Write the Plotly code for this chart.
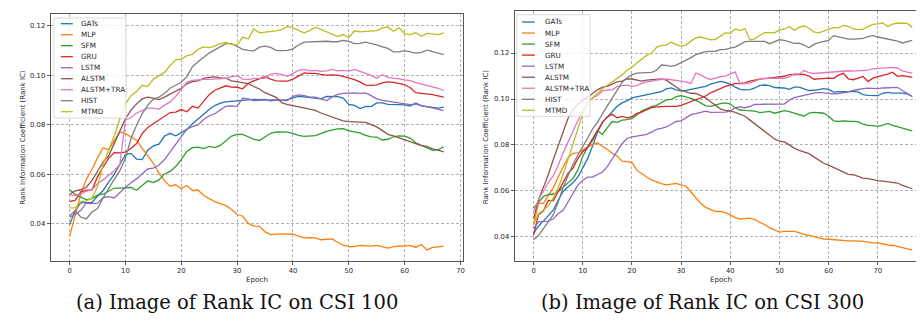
import plotly.graph_objects as go

W, H = 924, 322

# ---------------- data ----------------
models = ["GATs", "MLP", "SFM", "GRU", "LSTM", "ALSTM", "ALSTM+TRA", "HIST", "MTMD"]
colors = ["#1f77b4", "#ff7f0e", "#2ca02c", "#d62728", "#9467bd",
          "#8c564b", "#e377c2", "#7f7f7f", "#bcbd22"]

epochs_csi100 = list(range(68))
epochs_csi300 = list(range(78))

csi100_gats = [0.0398, 0.0453, 0.0485, 0.0485, 0.0487, 0.0512, 0.0535, 0.0570, 0.0600, 0.0640,
               0.0680, 0.0685, 0.0662, 0.0660, 0.0698, 0.0715, 0.0722, 0.0755, 0.0766, 0.0756,
               0.0768, 0.0782, 0.0805, 0.0825, 0.0845, 0.0862, 0.0878, 0.0888, 0.0893, 0.0895,
               0.0897, 0.0900, 0.0904, 0.0903, 0.0902, 0.0903, 0.0897, 0.0901, 0.0900, 0.0902,
               0.0909, 0.0915, 0.0913, 0.0910, 0.0909, 0.0905, 0.0915, 0.0916, 0.0914, 0.0908,
               0.0883, 0.0879, 0.0866, 0.0875, 0.0874, 0.0889, 0.0889, 0.0883, 0.0882, 0.0882,
               0.0881, 0.0876, 0.0889, 0.0877, 0.0875, 0.0870, 0.0868, 0.0872]
csi100_mlp = [0.0350, 0.0430, 0.0520, 0.0580, 0.0620, 0.0667, 0.0707, 0.0700, 0.0735, 0.0772,
              0.0765, 0.0752, 0.0738, 0.0705, 0.0675, 0.0645, 0.0605, 0.0575, 0.0552, 0.0558,
              0.0543, 0.0555, 0.0535, 0.0537, 0.0515, 0.0503, 0.0490, 0.0482, 0.0474, 0.0458,
              0.0438, 0.0431, 0.0402, 0.0391, 0.0390, 0.0368, 0.0357, 0.0359, 0.0359, 0.0360,
              0.0360, 0.0351, 0.0344, 0.0345, 0.0344, 0.0336, 0.0338, 0.0339, 0.0326, 0.0314,
              0.0308, 0.0308, 0.0313, 0.0311, 0.0310, 0.0313, 0.0308, 0.0302, 0.0307, 0.0311,
              0.0310, 0.0313, 0.0305, 0.0317, 0.0295, 0.0305, 0.0307, 0.0310]
csi100_sfm = [0.0538, 0.0520, 0.0508, 0.0498, 0.0502, 0.0516, 0.0520, 0.0532, 0.0545, 0.0545,
              0.0545, 0.0547, 0.0536, 0.0555, 0.0574, 0.0567, 0.0578, 0.0602, 0.0612, 0.0632,
              0.0660, 0.0693, 0.0708, 0.0710, 0.0704, 0.0713, 0.0708, 0.0717, 0.0738, 0.0755,
              0.0762, 0.0762, 0.0752, 0.0742, 0.0737, 0.0752, 0.0766, 0.0772, 0.0771, 0.0771,
              0.0766, 0.0758, 0.0754, 0.0755, 0.0757, 0.0765, 0.0774, 0.0779, 0.0784, 0.0785,
              0.0776, 0.0772, 0.0768, 0.0758, 0.0752, 0.0751, 0.0739, 0.0742, 0.0752, 0.0756,
              0.0755, 0.0747, 0.0728, 0.0717, 0.0706, 0.0697, 0.0699, 0.0712]
csi100_gru = [0.0491, 0.0495, 0.0530, 0.0536, 0.0537, 0.0590, 0.0630, 0.0665, 0.0688, 0.0687,
              0.0690, 0.0705, 0.0725, 0.0765, 0.0790, 0.0805, 0.0820, 0.0835, 0.0850, 0.0852,
              0.0862, 0.0853, 0.0875, 0.0868, 0.0895, 0.0922, 0.0940, 0.0948, 0.0958, 0.0953,
              0.0952, 0.0946, 0.0968, 0.0978, 0.0988, 0.0995, 0.0985, 0.0978, 0.0977, 0.0977,
              0.0985, 0.0997, 0.1010, 0.1008, 0.1008, 0.1004, 0.1001, 0.1002, 0.1001, 0.0996,
              0.0990, 0.0983, 0.0974, 0.0961, 0.0960, 0.0962, 0.0970, 0.0974, 0.0972, 0.0967,
              0.0963, 0.0950, 0.0930, 0.0927, 0.0926, 0.0922, 0.0917, 0.0912]
csi100_lstm = [0.0427, 0.0438, 0.0455, 0.0484, 0.0482, 0.0484, 0.0505, 0.0510, 0.0505, 0.0528,
               0.0548, 0.0566, 0.0582, 0.0603, 0.0622, 0.0625, 0.0638, 0.0660, 0.0690, 0.0725,
               0.0755, 0.0783, 0.0793, 0.0800, 0.0822, 0.0837, 0.0845, 0.0860, 0.0876, 0.0877,
               0.0875, 0.0908, 0.0905, 0.0898, 0.0899, 0.0901, 0.0902, 0.0902, 0.0899, 0.0898,
               0.0915, 0.0921, 0.0918, 0.0912, 0.0912, 0.0905, 0.0898, 0.0912, 0.0923, 0.0927,
               0.0929, 0.0929, 0.0927, 0.0929, 0.0918, 0.0905, 0.0899, 0.0896, 0.0893, 0.0890,
               0.0886, 0.0882, 0.0884, 0.0877, 0.0873, 0.0869, 0.0864, 0.0858]
csi100_alstm = [0.0520, 0.0534, 0.0538, 0.0548, 0.0575, 0.0610, 0.0650, 0.0675, 0.0725, 0.0772,
                0.0825, 0.0860, 0.0885, 0.0905, 0.0912, 0.0908, 0.0902, 0.0912, 0.0925, 0.0938,
                0.0948, 0.0966, 0.0975, 0.0978, 0.0988, 0.0992, 0.0994, 0.0990, 0.0989, 0.0978,
                0.0974, 0.0971, 0.0967, 0.0955, 0.0945, 0.0930, 0.0920, 0.0911, 0.0890, 0.0882,
                0.0878, 0.0873, 0.0869, 0.0866, 0.0859, 0.0848, 0.0840, 0.0832, 0.0822, 0.0816,
                0.0813, 0.0812, 0.0812, 0.0810, 0.0801, 0.0792, 0.0777, 0.0762, 0.0756, 0.0748,
                0.0741, 0.0734, 0.0725, 0.0716, 0.0713, 0.0703, 0.0698, 0.0691]
csi100_alstm_tra = [0.0517, 0.0515, 0.0520, 0.0532, 0.0537, 0.0562, 0.0578, 0.0595, 0.0615, 0.0640,
                    0.0820, 0.0830, 0.0848, 0.0858, 0.0868, 0.0868, 0.0863, 0.0880, 0.0893, 0.0915,
                    0.0945, 0.0972, 0.0980, 0.0983, 0.0984, 0.0984, 0.0985, 0.0985, 0.0988, 0.0995,
                    0.0999, 0.0985, 0.0983, 0.0988, 0.0987, 0.0988, 0.1005, 0.1008, 0.1003, 0.0996,
                    0.1008, 0.1020, 0.1024, 0.1018, 0.1020, 0.1016, 0.1018, 0.1024, 0.1018, 0.1020,
                    0.1017, 0.1024, 0.1016, 0.1008, 0.1000, 0.0988, 0.1003, 0.0992, 0.0990, 0.0986,
                    0.0982, 0.0979, 0.0971, 0.0965, 0.0961, 0.0955, 0.0948, 0.0939]
csi100_hist = [0.0432, 0.0453, 0.0428, 0.0420, 0.0448, 0.0462, 0.0505, 0.0545, 0.0580, 0.0615,
               0.0665, 0.0745, 0.0800, 0.0845, 0.0880, 0.0903, 0.0912, 0.0928, 0.0948, 0.0960,
               0.0972, 0.0995, 0.1035, 0.1055, 0.1072, 0.1090, 0.1103, 0.1115, 0.1128, 0.1128,
               0.1118, 0.1105, 0.1101, 0.1099, 0.1114, 0.1118, 0.1113, 0.1101, 0.1100, 0.1101,
               0.1107, 0.1123, 0.1134, 0.1135, 0.1136, 0.1139, 0.1138, 0.1136, 0.1136, 0.1141,
               0.1137, 0.1128, 0.1129, 0.1134, 0.1129, 0.1123, 0.1115, 0.1109, 0.1095, 0.1095,
               0.1100, 0.1095, 0.1090, 0.1093, 0.1102, 0.1096, 0.1090, 0.1084]
csi100_mtmd = [0.0465, 0.0465, 0.0490, 0.0493, 0.0505, 0.0550, 0.0640, 0.0695, 0.0755, 0.0825,
               0.0885, 0.0918, 0.0935, 0.0960, 0.0955, 0.0985, 0.0998, 0.1012, 0.1040, 0.1063,
               0.1066, 0.1080, 0.1085, 0.1105, 0.1115, 0.1112, 0.1118, 0.1128, 0.1133, 0.1125,
               0.1122, 0.1155, 0.1148, 0.1188, 0.1172, 0.1174, 0.1175, 0.1180, 0.1185, 0.1198,
               0.1192, 0.1182, 0.1172, 0.1181, 0.1195, 0.1186, 0.1176, 0.1165, 0.1157, 0.1165,
               0.1152, 0.1180, 0.1176, 0.1178, 0.1181, 0.1181, 0.1192, 0.1195, 0.1178, 0.1192,
               0.1168, 0.1165, 0.1172, 0.1158, 0.1170, 0.1166, 0.1165, 0.1172]

csi300_gats = [0.0416, 0.0446, 0.0468, 0.0490, 0.0516, 0.0558, 0.0597, 0.0617, 0.0635, 0.0660,
               0.0698, 0.0740, 0.0795, 0.0855, 0.0898, 0.0920, 0.0945, 0.0968, 0.0983, 0.0992,
               0.1005, 0.1010, 0.1015, 0.1018, 0.1024, 0.1028, 0.1032, 0.1044, 0.1048, 0.1040,
               0.1035, 0.1038, 0.1042, 0.1045, 0.1048, 0.1055, 0.1065, 0.1072, 0.1077, 0.1072,
               0.1064, 0.1052, 0.1042, 0.1040, 0.1041, 0.1048, 0.1059, 0.1061, 0.1058, 0.1050,
               0.1048, 0.1048, 0.1042, 0.1052, 0.1052, 0.1044, 0.1037, 0.1038, 0.1040, 0.1045,
               0.1042, 0.1030, 0.1032, 0.1033, 0.1033, 0.1032, 0.1031, 0.1019, 0.1016, 0.1015,
               0.1015, 0.1025, 0.1029, 0.1026, 0.1026, 0.1026, 0.1022, 0.1011]
csi300_mlp = [0.0452, 0.0545, 0.0545, 0.0580, 0.0612, 0.0660, 0.0705, 0.0745, 0.0763, 0.0765,
              0.0777, 0.0790, 0.0802, 0.0808, 0.0795, 0.0780, 0.0764, 0.0752, 0.0729, 0.0726,
              0.0724, 0.0690, 0.0673, 0.0660, 0.0648, 0.0638, 0.0631, 0.0626, 0.0630, 0.0632,
              0.0626, 0.0620, 0.0595, 0.0572, 0.0545, 0.0528, 0.0518, 0.0510, 0.0510, 0.0505,
              0.0495, 0.0483, 0.0477, 0.0480, 0.0481, 0.0475, 0.0465, 0.0452, 0.0440, 0.0430,
              0.0420, 0.0423, 0.0422, 0.0423, 0.0418, 0.0410, 0.0406, 0.0400, 0.0395, 0.0390,
              0.0389, 0.0387, 0.0384, 0.0382, 0.0382, 0.0382, 0.0382, 0.0380, 0.0377, 0.0373,
              0.0373, 0.0367, 0.0364, 0.0363, 0.0358, 0.0351, 0.0347, 0.0342]
csi300_sfm = [0.0525, 0.0552, 0.0575, 0.0584, 0.0585, 0.0597, 0.0617, 0.0633, 0.0653, 0.0690,
              0.0750, 0.0790, 0.0820, 0.0862, 0.0846, 0.0875, 0.0902, 0.0898, 0.0908, 0.0910,
              0.0914, 0.0930, 0.0948, 0.0957, 0.0967, 0.0972, 0.0985, 0.0996, 0.0998, 0.1010,
              0.1015, 0.1010, 0.1003, 0.0995, 0.0984, 0.0970, 0.0968, 0.0975, 0.0980, 0.0983,
              0.0978, 0.0962, 0.0952, 0.0950, 0.0949, 0.0947, 0.0941, 0.0943, 0.0946, 0.0938,
              0.0944, 0.0949, 0.0945, 0.0938, 0.0931, 0.0925, 0.0938, 0.0942, 0.0940, 0.0938,
              0.0925, 0.0905, 0.0902, 0.0905, 0.0903, 0.0902, 0.0901, 0.0890, 0.0885, 0.0884,
              0.0881, 0.0886, 0.0894, 0.0885, 0.0879, 0.0876, 0.0869, 0.0861]
csi300_gru = [0.0406, 0.0496, 0.0512, 0.0558, 0.0556, 0.0597, 0.0640, 0.0676, 0.0698, 0.0740,
              0.0770, 0.0790, 0.0826, 0.0860, 0.0898, 0.0922, 0.0933, 0.0918, 0.0924, 0.0918,
              0.0922, 0.0937, 0.0943, 0.0953, 0.0962, 0.0966, 0.0968, 0.0968, 0.0968, 0.0968,
              0.0972, 0.0980, 0.0990, 0.0998, 0.1007, 0.1013, 0.1027, 0.1035, 0.1045, 0.1055,
              0.1060, 0.1067, 0.1068, 0.1070, 0.1078, 0.1083, 0.1087, 0.1089, 0.1091, 0.1094,
              0.1096, 0.1099, 0.1106, 0.1107, 0.1106, 0.1107, 0.1100, 0.1086, 0.1088, 0.1091,
              0.1091, 0.1090, 0.1104, 0.1112, 0.1088, 0.1084, 0.1090, 0.1098, 0.1076, 0.1091,
              0.1097, 0.1102, 0.1108, 0.1117, 0.1099, 0.1102, 0.1098, 0.1094]
csi300_lstm = [0.0435, 0.0465, 0.0467, 0.0468, 0.0478, 0.0500, 0.0515, 0.0550, 0.0590, 0.0625,
               0.0645, 0.0660, 0.0660, 0.0672, 0.0682, 0.0705, 0.0740, 0.0770, 0.0805, 0.0828,
               0.0835, 0.0838, 0.0843, 0.0846, 0.0856, 0.0868, 0.0872, 0.0878, 0.0890, 0.0902,
               0.0905, 0.0918, 0.0932, 0.0936, 0.0940, 0.0947, 0.0942, 0.0942, 0.0942, 0.0943,
               0.0948, 0.0962, 0.0966, 0.0962, 0.0968, 0.0976, 0.0977, 0.0978, 0.0977, 0.0977,
               0.0978, 0.0978, 0.0995, 0.1006, 0.1011, 0.1018, 0.1023, 0.1026, 0.1029, 0.1027,
               0.1024, 0.1022, 0.1024, 0.1027, 0.1031, 0.1037, 0.1042, 0.1045, 0.1047, 0.1045,
               0.1045, 0.1048, 0.1049, 0.1050, 0.1051, 0.1037, 0.1025, 0.1011]
csi300_alstm = [0.0478, 0.0560, 0.0615, 0.0670, 0.0735, 0.0795, 0.0855, 0.0915, 0.0955, 0.0975,
                0.0995, 0.1008, 0.1025, 0.1040, 0.1052, 0.1055, 0.1065, 0.1075, 0.1078, 0.1088,
                0.1087, 0.1082, 0.1078, 0.1082, 0.1083, 0.1085, 0.1088, 0.1082, 0.1065, 0.1052,
                0.1038, 0.1032, 0.1025, 0.1024, 0.1015, 0.1005, 0.0988, 0.0972, 0.0957, 0.0950,
                0.0948, 0.0942, 0.0935, 0.0925, 0.0908, 0.0892, 0.0872, 0.0857, 0.0841, 0.0826,
                0.0816, 0.0813, 0.0800, 0.0786, 0.0776, 0.0770, 0.0762, 0.0748, 0.0732, 0.0720,
                0.0712, 0.0702, 0.0690, 0.0680, 0.0672, 0.0670, 0.0662, 0.0655, 0.0653, 0.0647,
                0.0644, 0.0642, 0.0640, 0.0638, 0.0634, 0.0624, 0.0616, 0.0609]
csi300_alstm_tra = [0.0507, 0.0562, 0.0598, 0.0637, 0.0665, 0.0710, 0.0765, 0.0815, 0.0858, 0.0905,
                    0.0945, 0.0985, 0.1005, 0.1015, 0.1035, 0.1040, 0.1040, 0.1055, 0.1058, 0.1060,
                    0.1055, 0.1058, 0.1068, 0.1075, 0.1078, 0.1083, 0.1085, 0.1087, 0.1084, 0.1080,
                    0.1078, 0.1075, 0.1068, 0.1113, 0.1105, 0.1092, 0.1085, 0.1092, 0.1097, 0.1100,
                    0.1110, 0.1118, 0.1065, 0.1066, 0.1070, 0.1078, 0.1087, 0.1090, 0.1091, 0.1090,
                    0.1091, 0.1090, 0.1096, 0.1110, 0.1108, 0.1124, 0.1115, 0.1111, 0.1113, 0.1114,
                    0.1114, 0.1119, 0.1118, 0.1120, 0.1123, 0.1121, 0.1122, 0.1123, 0.1126, 0.1131,
                    0.1133, 0.1135, 0.1137, 0.1138, 0.1135, 0.1122, 0.1117, 0.1113]
csi300_hist = [0.0387, 0.0405, 0.0435, 0.0465, 0.0495, 0.0550, 0.0615, 0.0665, 0.0715, 0.0755,
               0.0790, 0.0830, 0.0870, 0.0898, 0.0935, 0.0970, 0.1005, 0.1040, 0.1072, 0.1093,
               0.1105, 0.1113, 0.1113, 0.1114, 0.1116, 0.1125, 0.1148, 0.1146, 0.1142, 0.1148,
               0.1158, 0.1170, 0.1180, 0.1193, 0.1201, 0.1206, 0.1207, 0.1208, 0.1215, 0.1216,
               0.1222, 0.1226, 0.1238, 0.1250, 0.1251, 0.1252, 0.1251, 0.1251, 0.1241, 0.1250,
               0.1258, 0.1255, 0.1250, 0.1242, 0.1243, 0.1235, 0.1223, 0.1238, 0.1246, 0.1251,
               0.1255, 0.1276, 0.1272, 0.1265, 0.1261, 0.1261, 0.1262, 0.1264, 0.1272, 0.1276,
               0.1270, 0.1265, 0.1261, 0.1258, 0.1252, 0.1244, 0.1249, 0.1255]
csi300_mtmd = [0.0452, 0.0500, 0.0515, 0.0535, 0.0568, 0.0612, 0.0670, 0.0735, 0.0805, 0.0870,
               0.0935, 0.0985, 0.1005, 0.1022, 0.1045, 0.1060, 0.1075, 0.1090, 0.1105, 0.1125,
               0.1138, 0.1157, 0.1172, 0.1190, 0.1200, 0.1225, 0.1234, 0.1235, 0.1248, 0.1237,
               0.1230, 0.1235, 0.1252, 0.1266, 0.1270, 0.1265, 0.1258, 0.1260, 0.1275, 0.1288,
               0.1286, 0.1305, 0.1298, 0.1307, 0.1258, 0.1262, 0.1278, 0.1289, 0.1289, 0.1288,
               0.1301, 0.1305, 0.1315, 0.1300, 0.1312, 0.1319, 0.1308, 0.1292, 0.1288, 0.1295,
               0.1303, 0.1311, 0.1310, 0.1320, 0.1316, 0.1305, 0.1302, 0.1304, 0.1315, 0.1325,
               0.1327, 0.1331, 0.1316, 0.1326, 0.1331, 0.1331, 0.1329, 0.1312]

csi100_series = [csi100_gats, csi100_mlp, csi100_sfm, csi100_gru, csi100_lstm,
                 csi100_alstm, csi100_alstm_tra, csi100_hist, csi100_mtmd]
csi300_series = [csi300_gats, csi300_mlp, csi300_sfm, csi300_gru, csi300_lstm,
                 csi300_alstm, csi300_alstm_tra, csi300_hist, csi300_mtmd]

x_ticks_100 = [0, 10, 20, 30, 40, 50, 60, 70]
x_ticks_300 = [0, 10, 20, 30, 40, 50, 60, 70, 80]
y_ticks = [0.04, 0.06, 0.08, 0.10, 0.12]

captions = ["(a) Image of Rank IC on CSI 100", "(b) Image of Rank IC on CSI 300"]
y_title = "Rank Information Coefficient (Rank IC)"
x_title = "Epoch"

# ---------------- layout helpers (pixel -> paper) ----------------
def px(x):
    return x / W

def py(y):
    return 1 - y / H

FONT = "DejaVu Sans"
TXT = "#262626"

fig = go.Figure()
for name, col, ys in zip(models, colors, csi100_series):
    fig.add_trace(go.Scatter(x=epochs_csi100[:len(ys)], y=ys, mode="lines", name=name,
                             line=dict(color=col, width=1.3), xaxis="x", yaxis="y",
                             showlegend=False))
for name, col, ys in zip(models, colors, csi300_series):
    fig.add_trace(go.Scatter(x=epochs_csi300[:len(ys)], y=ys, mode="lines", name=name,
                             line=dict(color=col, width=1.3), xaxis="x2", yaxis="y2",
                             showlegend=False))

axis_common = dict(showline=True, mirror=True, linecolor="#555555", linewidth=1,
                   ticks="outside", ticklen=3, tickwidth=1, tickcolor="#555555",
                   showgrid=True, gridcolor="#b3b3b3", gridwidth=0.8, griddash="3px,2px",
                   zeroline=False, tickfont=dict(family=FONT, size=6.8, color=TXT))

fig.update_layout(
    width=W, height=H,
    margin=dict(l=0, r=0, t=0, b=0),
    paper_bgcolor="white", plot_bgcolor="white",
    xaxis=dict(domain=[px(42.7), px(455.7)], range=[-3.4, 70.4],
               tickvals=x_ticks_100, anchor="y", **axis_common),
    yaxis=dict(domain=[py(253.3), py(6)], range=[0.0249, 0.1248],
               tickvals=y_ticks, tickformat=".2f", anchor="x", **axis_common),
    xaxis2=dict(domain=[px(507.7), px(922)], range=[-3.85, 80.2],
                tickvals=x_ticks_300, anchor="y2", **axis_common),
    yaxis2=dict(domain=[py(253.3), py(3.3)], range=[0.0293, 0.1382],
                tickvals=y_ticks, tickformat=".2f", anchor="x2", **axis_common),
)

shapes = []
annotations = []

# manual legends (matplotlib-like compact legend)
legend_specs = [
    dict(box=(46, 10, 118.3, 110), line=(53, 65), text_x=70.7, y0=15.7, dy=11.0),
    dict(box=(510, 6.7, 583.3, 108.3), line=(515, 528), text_x=536, y0=14.0, dy=11.04),
]
for spec in legend_specs:
    x0, y0, x1, y1 = spec["box"]
    shapes.append(dict(type="rect", xref="paper", yref="paper",
                       x0=px(x0), x1=px(x1), y0=py(y1), y1=py(y0),
                       fillcolor="rgba(255,255,255,0.8)",
                       line=dict(color="#d0d0d0", width=0.8), layer="above"))
    for i, (name, col) in enumerate(zip(models, colors)):
        yy = spec["y0"] + i * spec["dy"]
        shapes.append(dict(type="line", xref="paper", yref="paper",
                           x0=px(spec["line"][0]), x1=px(spec["line"][1]),
                           y0=py(yy), y1=py(yy),
                           line=dict(color=col, width=1.3), layer="above"))
        annotations.append(dict(xref="paper", yref="paper", x=px(spec["text_x"]), y=py(yy),
                                text=name, showarrow=False, xanchor="left", yanchor="middle",
                                font=dict(family=FONT, size=7.2, color=TXT)))

# axis titles
for cx, cy in [(14.2, 129.6), (479, 128.3)]:
    annotations.append(dict(xref="paper", yref="paper", x=px(cx), y=py(cy), text=y_title,
                            textangle=-90, showarrow=False, xanchor="center", yanchor="middle",
                            font=dict(family=FONT, size=7.0, color=TXT)))
for cx in [249.2, 715]:
    annotations.append(dict(xref="paper", yref="paper", x=px(cx), y=py(271), text=x_title,
                            showarrow=False, xanchor="center", yanchor="middle",
                            font=dict(family=FONT, size=7.2, color=TXT)))

# captions
for cx, cap in zip([229, 696], captions):
    annotations.append(dict(xref="paper", yref="paper", x=px(cx), y=py(294), text=cap,
                            showarrow=False, xanchor="center", yanchor="middle",
                            font=dict(family="DejaVu Serif", size=19.5, color="#111111")))

fig.update_layout(shapes=shapes, annotations=annotations)
fig.write_html("out.html")
